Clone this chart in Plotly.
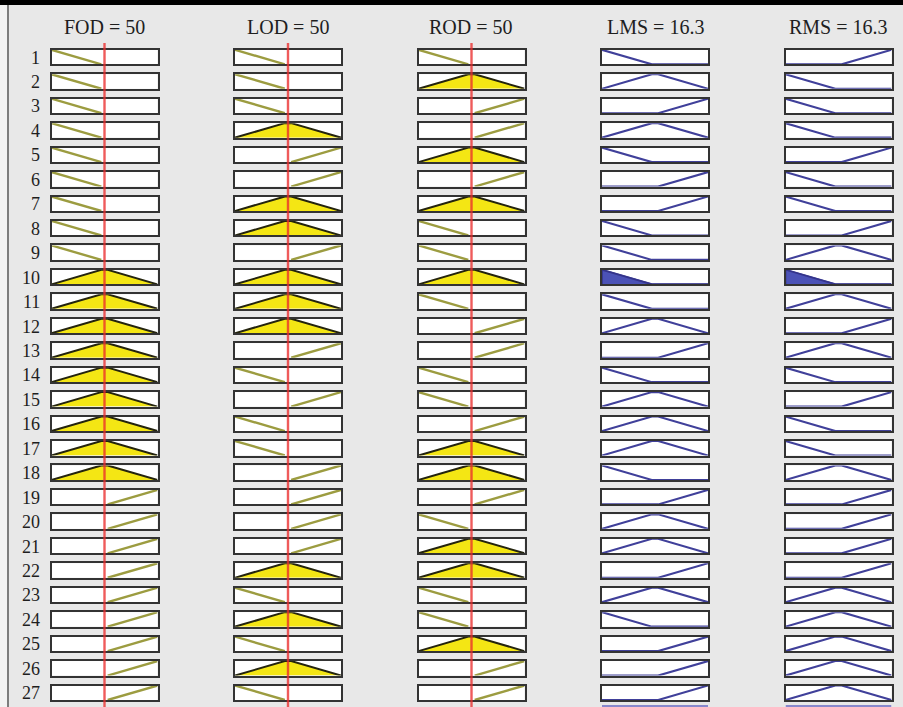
import numpy as np
import plotly.graph_objects as go

# ---------------- data ----------------
var_names = ["FOD", "LOD", "ROD", "LMS", "RMS"]
var_value_text = ["50", "50", "50", "16.3", "16.3"]
input_values = [50, 50, 50]

rule_labels = ["1", "2", "3", "4", "5", "6", "7", "8", "9", "10", "11", "12", "13", "14",
               "15", "16", "17", "18", "19", "20", "21", "22", "23", "24", "25", "26", "27"]

# membership function index per rule (1 = low, 2 = medium, 3 = high)
FOD_mf = [1, 1, 1, 1, 1, 1, 1, 1, 1, 2, 2, 2, 2, 2, 2, 2, 2, 2, 3, 3, 3, 3, 3, 3, 3, 3, 3]
LOD_mf = [1, 1, 1, 2, 3, 3, 2, 2, 3, 2, 2, 2, 3, 1, 3, 1, 1, 3, 3, 3, 3, 2, 1, 2, 1, 2, 1]
ROD_mf = [1, 2, 3, 3, 2, 3, 2, 1, 1, 2, 1, 3, 3, 1, 1, 3, 2, 2, 3, 1, 2, 2, 1, 1, 2, 3, 3]
LMS_mf = [1, 2, 3, 2, 1, 3, 3, 1, 1, 1, 1, 2, 3, 1, 2, 2, 2, 1, 3, 2, 2, 3, 2, 1, 3, 3, 3]
RMS_mf = [3, 1, 1, 1, 3, 1, 1, 3, 2, 1, 2, 3, 2, 1, 3, 1, 1, 2, 3, 3, 3, 3, 2, 2, 2, 2, 2]

# membership function breakpoints (universe 0..100)
mf_x = {1: [0, 47, 100], 2: [0, 47, 53, 100], 3: [0, 53, 100]}
mf_y = {1: [1, 0, 0], 2: [0, 1, 1, 0], 3: [0, 0, 1]}

# ---------------- geometry / style ----------------
W, H = 903, 707
col_left0, col_step, box_w = 49.5, 183.5, 110
row_top0, row_step, box_h = 47.8, 24.45, 18.5
lw = 2

BG = "#e8e8e8"
BOX = "#333333"
IN_LINE = "#9c9c40"
IN_FILL = "#f4e614"
IN_EDGE = "#24240e"
OUT_LINE = "#40409a"
OUT_FILL = "#4b52b6"
RED = "rgba(235,45,45,0.78)"
FONT = "Liberation Serif"


def clip_mf(xs, ys, level):
    """polygon of min(mf, level)"""
    px, py = [], []
    for i in range(len(xs) - 1):
        x0, y0, x1, y1 = xs[i], ys[i], xs[i + 1], ys[i + 1]
        px.append(x0); py.append(min(y0, level))
        if (y0 - level) * (y1 - level) < 0:
            t = (level - y0) / (y1 - y0)
            px.append(x0 + t * (x1 - x0)); py.append(level)
    px.append(xs[-1]); py.append(min(ys[-1], level))
    return [px[0]] + px + [px[-1]], [0] + py + [0]


inputs = [FOD_mf, LOD_mf, ROD_mf]
outputs = [LMS_mf, RMS_mf]
columns = inputs + outputs
n_rules = len(rule_labels)

fig = go.Figure()
layout_axes = {}


def axid(n):
    return "" if n == 1 else str(n)


for r in range(n_rules):
    # firing strength of the rule
    degrees = [float(np.interp(input_values[c], mf_x[inputs[c][r]], mf_y[inputs[c][r]]))
               for c in range(3)]
    strength = min(degrees)
    top = row_top0 + r * row_step
    for c in range(5):
        n = r * 5 + c + 1
        left = col_left0 + c * col_step
        xd = [(left + lw) / W, (left + box_w - lw) / W]
        yd = [1 - (top + box_h - lw) / H, 1 - (top + lw) / H]
        common = dict(showgrid=False, zeroline=False, showticklabels=False, ticks="",
                      showline=True, mirror=True, linecolor=BOX, linewidth=lw,
                      fixedrange=True)
        layout_axes["xaxis" + axid(n)] = dict(domain=xd, range=[0, 100],
                                              anchor="y" + axid(n), **common)
        layout_axes["yaxis" + axid(n)] = dict(domain=yd, range=[0, 1],
                                              anchor="x" + axid(n), **common)
        k = columns[c][r]
        xs, ys = mf_x[k], mf_y[k]
        xa, ya = "x" + axid(n), "y" + axid(n)
        if c < 3:
            deg = degrees[c]
            # only the non-zero part of the input MF is drawn
            lx, ly = [], []
            for i in range(len(xs)):
                prev_nz = i > 0 and ys[i - 1] > 0
                next_nz = i < len(xs) - 1 and ys[i + 1] > 0
                if ys[i] > 0 or prev_nz or next_nz:
                    lx.append(xs[i]); ly.append(ys[i])
            if deg > 0:
                fx, fy = clip_mf(xs, ys, deg)
                fig.add_trace(go.Scatter(x=fx, y=fy, mode="lines", fill="toself",
                                         fillcolor=IN_FILL,
                                         line=dict(color=IN_EDGE, width=2),
                                         xaxis=xa, yaxis=ya, hoverinfo="skip"))
            else:
                fig.add_trace(go.Scatter(x=lx, y=ly, mode="lines",
                                         line=dict(color=IN_LINE, width=2.4),
                                         xaxis=xa, yaxis=ya, hoverinfo="skip"))
        else:
            fig.add_trace(go.Scatter(x=xs, y=ys, mode="lines",
                                     line=dict(color=OUT_LINE, width=2.1),
                                     xaxis=xa, yaxis=ya, hoverinfo="skip"))
            if strength > 0:
                fx, fy = clip_mf(xs, ys, strength)
                fig.add_trace(go.Scatter(x=fx, y=fy, mode="lines", fill="toself",
                                         fillcolor=OUT_FILL,
                                         line=dict(color="#34348a", width=1.6),
                                         xaxis=xa, yaxis=ya, hoverinfo="skip"))

annotations = []
for r in range(n_rules):
    yc = row_top0 + r * row_step + box_h / 2
    annotations.append(dict(text=rule_labels[r], x=41.5 / W, y=1 - (yc + 0.5) / H,
                            xref="paper", yref="paper", xanchor="right", yanchor="middle",
                            showarrow=False, font=dict(family=FONT, size=18, color="#1e1e1e")))
for c in range(5):
    left = col_left0 + c * col_step
    annotations.append(dict(text=f"{var_names[c]} = {var_value_text[c]}",
                            x=(left + box_w / 2) / W, y=1 - 27 / H,
                            xref="paper", yref="paper", xanchor="center", yanchor="middle",
                            showarrow=False, font=dict(family=FONT, size=20, color="#1e1e1e")))

shapes = [
    dict(type="rect", xref="paper", yref="paper", x0=0, x1=1, y0=1 - 5 / H, y1=1,
         fillcolor="black", line=dict(width=0), layer="above"),
    dict(type="rect", xref="paper", yref="paper", x0=0, x1=7 / W, y0=0, y1=1 - 5 / H,
         fillcolor="#f3f3f3", line=dict(width=0), layer="below"),
    dict(type="line", xref="paper", yref="paper", x0=8 / W, x1=8 / W, y0=0, y1=1 - 5 / H,
         line=dict(color="#5a5a5a", width=1.5), layer="above"),
]
# red lines at the input values
for c in range(3):
    shapes.append(dict(type="line", xref="x" + axid(c + 1), yref="paper",
                       x0=input_values[c], x1=input_values[c], y0=0, y1=1 - 43 / H,
                       line=dict(color=RED, width=2.4), layer="above"))
# top edge of the (cut-off) aggregated output plots
for c in (3, 4):
    shapes.append(dict(type="line", xref="x" + axid(c + 1), yref="paper",
                       x0=0, x1=100, y0=1 / H, y1=1 / H,
                       line=dict(color="#8888cc", width=2), layer="above"))

fig.update_layout(width=W, height=H, margin=dict(l=0, r=0, t=0, b=0),
                  paper_bgcolor=BG, plot_bgcolor="white", showlegend=False,
                  hovermode=False, annotations=annotations, shapes=shapes,
                  **layout_axes)

fig.write_html("out.html", config={"displayModeBar": False},
               post_script="document.body.style.margin='0px';document.body.style.overflow='hidden';")
